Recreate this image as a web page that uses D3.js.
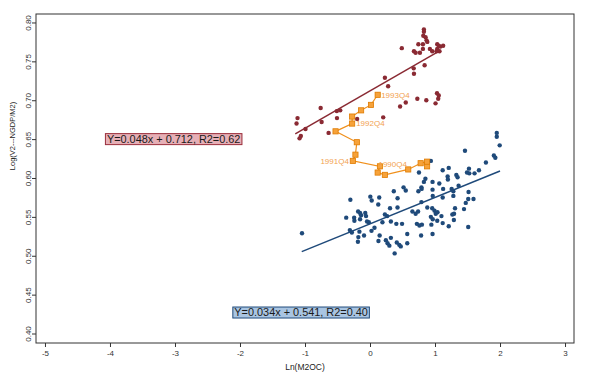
<!DOCTYPE html>
<html>
<head>
<meta charset="utf-8">
<script src="https://cdn.jsdelivr.net/npm/d3@7"></script>
<style>
  html, body { margin: 0; padding: 0; background: #ffffff; }
  svg { display: block; }
  text { font-family: "Liberation Sans", Arial, Helvetica, sans-serif; }
</style>
</head>
<body>
<svg id="chart" width="600" height="376"></svg>
<script>
// ---------------- DATA ----------------
const xTickValues = [-5, -4, -3, -2, -1, 0, 1, 2, 3];
const xTickLabels = ["-5", "-4", "-3", "-2", "-1", "0", "1", "2", "3"];
const yTickValues = [0.40, 0.45, 0.50, 0.55, 0.60, 0.65, 0.70, 0.75, 0.80];
const yTickLabels = ["0.40", "0.45", "0.50", "0.55", "0.60", "0.65", "0.70", "0.75", "0.80"];
const xTitle = "Ln(M2OC)";
const yTitle = "Log(V2---NGDP/M2)";

// dark red series
const redX = [-0.759, -1.115, -1.130, -0.992, -0.744, -0.511, -0.458, -0.508, -0.637, -0.198,
  -1.064, -1.084, 0.203, 0.229, 0.279, 0.463, 0.550, 0.728, 0.866, 1.031,
  1.058, 1.049, 1.008, 0.672, 0.676, 0.840, 0.489, 0.829, 0.829, 0.820,
  0.855, 0.870, 0.881, 0.744, 0.814, 0.814, 0.676, 0.702, 0.768, 0.921,
  0.957, 1.034, 1.058, 1.084, 1.125, 1.034, 1.069, 1.023, 0.118];
const redY = [0.690, 0.677, 0.670, 0.663, 0.672, 0.686, 0.687, 0.677, 0.658, 0.676,
  0.654, 0.651, 0.678, 0.729, 0.718, 0.692, 0.697, 0.702, 0.700, 0.709,
  0.706, 0.702, 0.696, 0.741, 0.734, 0.745, 0.767, 0.791, 0.788, 0.783,
  0.781, 0.777, 0.775, 0.772, 0.772, 0.766, 0.763, 0.761, 0.761, 0.766,
  0.763, 0.772, 0.770, 0.769, 0.770, 0.766, 0.763, 0.763, 0.707];

// dark blue series
const blueX = [-1.046, -0.302, 0.005, 0.026, 0.142, 0.127, 0.366, 0.424, -0.366, -0.244,
  -0.240, -0.183, -0.153, -0.137, -0.073, -0.061, -0.153, -0.046, -0.018, -0.310,
  -0.279, -0.163, -0.179, -0.186, -0.092, 0.023, 0.069, 0.148, 0.229, 0.264,
  0.308, 0.423, 0.191, 0.321, 0.405, 0.130, 0.244, 0.270, 0.298, 0.321,
  0.412, 0.450, 0.473, 0.379, 0.573, 0.573, 1.950, 1.950, 1.995, 1.461,
  1.905, 1.928, 1.783, 0.936, 0.753, 1.118, 1.211, 1.522, 1.492, 1.527,
  1.608, 1.676, 1.328, 1.347, 1.194, 1.198, 0.852, 0.829, 0.962, 1.066,
  0.791, 0.794, 0.744, 0.516, 0.550, 0.962, 1.125, 1.256, 1.282, 1.363,
  0.965, 1.118, 1.282, 1.516, 1.511, 1.592, 1.473, 0.791, 0.881, 0.957,
  0.992, 1.011, 1.038, 1.099, 0.652, 0.702, 0.740, 1.308, 1.293, 1.267,
  1.446, 0.936, 0.965, 1.034, 1.290, 0.493, 0.721, 0.760, 0.798, 0.944,
  1.118, 1.211, 1.511, 0.786, 0.962];
const blueY = [0.529, 0.572, 0.576, 0.571, 0.575, 0.566, 0.583, 0.574, 0.549, 0.549,
  0.545, 0.557, 0.555, 0.552, 0.555, 0.551, 0.547, 0.544, 0.543, 0.533,
  0.530, 0.531, 0.524, 0.518, 0.526, 0.532, 0.536, 0.526, 0.553, 0.551,
  0.561, 0.562, 0.543, 0.544, 0.541, 0.519, 0.520, 0.516, 0.513, 0.523,
  0.517, 0.514, 0.512, 0.503, 0.528, 0.516, 0.658, 0.653, 0.642, 0.635,
  0.629, 0.626, 0.620, 0.622, 0.607, 0.610, 0.613, 0.612, 0.607, 0.606,
  0.606, 0.610, 0.604, 0.601, 0.602, 0.598, 0.599, 0.595, 0.595, 0.593,
  0.588, 0.586, 0.583, 0.588, 0.584, 0.585, 0.586, 0.586, 0.583, 0.590,
  0.577, 0.575, 0.577, 0.582, 0.573, 0.573, 0.568, 0.569, 0.562, 0.561,
  0.558, 0.554, 0.556, 0.551, 0.557, 0.554, 0.557, 0.561, 0.554, 0.553,
  0.560, 0.550, 0.547, 0.545, 0.546, 0.541, 0.541, 0.539, 0.540, 0.540,
  0.542, 0.538, 0.537, 0.526, 0.528];

// orange connected path
const orangeX = [0.878, 0.878, 0.779, 0.588, 0.229, 0.118, 0.153, -0.264, -0.224, -0.203,
  -0.530, -0.275, -0.275, -0.137, 0.015, 0.118];
const orangeY = [0.615, 0.621, 0.619, 0.611, 0.604, 0.607, 0.615, 0.622, 0.630, 0.646,
  0.660, 0.670, 0.679, 0.687, 0.694, 0.707];
const orangeLabelIndex = [6, 7, 11, 15];
const orangeLabelText = ["1990Q4", "1991Q4", "1992Q4", "1993Q4"];

// fitted lines (from the chart's equations)
const fitSlopes = [0.048, 0.034];
const fitIntercepts = [0.712, 0.541];
const fitXFrom = [-1.15, -1.05];
const fitXTo = [1.05, 2.00];
const fitLabels = ["Y=0.048x + 0.712, R2=0.62", "Y=0.034x + 0.541, R2=0.40"];
const fitLabelX = [-3.02, -1.06];
const fitLabelY = [0.650, 0.427];

// ---------------- STYLE ----------------
const RED = "#8a2a33", BLUE = "#1f4a7a", ORANGE = "#f0901c", ORANGE_TXT = "#f2a250";
const boxFill = ["#e6afb6", "#a9c5e2"];
const boxStroke = ["#9a2e3b", "#1f4a7a"];
const lineColor = [RED, BLUE];

const svg = d3.select("#chart");
const frame = { left: 36, right: 574, top: 14, bottom: 343 };

const x = d3.scaleLinear().domain([-5.138, 3.138]).range([frame.left, frame.right]);
const y = d3.scaleLinear().domain([0.3878, 0.8109]).range([frame.bottom, frame.top]);

// background
svg.append("rect").attr("width", 600).attr("height", 376).attr("fill", "#fff");

// axes
const xAxis = d3.axisBottom(x).tickValues(xTickValues)
  .tickFormat((d, i) => xTickLabels[i]).tickSizeOuter(0).tickSize(4).tickPadding(3);
const gx = svg.append("g").attr("transform", `translate(0,${frame.bottom})`).call(xAxis);
gx.select(".domain").remove();
gx.selectAll(".tick line").attr("stroke", "#333").attr("stroke-width", 1);
gx.selectAll(".tick text").attr("fill", "#333").style("font-size", "8px")
  .attr("dy", "0.71em");

const yAxis = d3.axisLeft(y).tickValues(yTickValues)
  .tickFormat((d, i) => yTickLabels[i]).tickSizeOuter(0).tickSize(4);
const gy = svg.append("g").attr("transform", `translate(${frame.left},0)`).call(yAxis);
gy.select(".domain").remove();
gy.selectAll(".tick line").attr("stroke", "#333").attr("stroke-width", 1);
gy.selectAll(".tick text").attr("fill", "#333").style("font-size", "8px")
  .attr("transform", "rotate(-90)")
  .attr("x", 0).attr("y", -5).attr("dy", "0")
  .style("text-anchor", "middle");

// frame
svg.append("rect")
  .attr("x", frame.left).attr("y", frame.top)
  .attr("width", frame.right - frame.left).attr("height", frame.bottom - frame.top)
  .attr("fill", "none").attr("stroke", "#333").attr("stroke-width", 1);

// axis titles
svg.append("text").attr("x", (frame.left + frame.right) / 2).attr("y", 370)
  .attr("text-anchor", "middle").style("font-size", "8.5px").attr("fill", "#222")
  .text(xTitle);
svg.append("text").attr("transform", `translate(15,136) rotate(-90)`)
  .attr("text-anchor", "middle").style("font-size", "7.5px").attr("fill", "#222")
  .text(yTitle);

const plot = svg.append("g");

// points
plot.selectAll("circle.red").data(redX.map((v, i) => [v, redY[i]])).enter()
  .append("circle").attr("class", "red")
  .attr("cx", d => x(d[0])).attr("cy", d => y(d[1])).attr("r", 2.2)
  .attr("fill", RED);
plot.selectAll("circle.blue").data(blueX.map((v, i) => [v, blueY[i]])).enter()
  .append("circle").attr("class", "blue")
  .attr("cx", d => x(d[0])).attr("cy", d => y(d[1])).attr("r", 2.2)
  .attr("fill", BLUE);

// fit lines
const line = d3.line().x(d => x(d[0])).y(d => y(d[1]));
fitSlopes.forEach((s, i) => {
  const pts = [fitXFrom[i], fitXTo[i]].map(v => [v, s * v + fitIntercepts[i]]);
  plot.append("path").attr("d", line(pts)).attr("fill", "none")
    .attr("stroke", lineColor[i]).attr("stroke-width", 1.5);
});

// orange path
const oPts = orangeX.map((v, i) => [v, orangeY[i]]);
plot.append("path").attr("d", line(oPts)).attr("fill", "none")
  .attr("stroke", ORANGE).attr("stroke-width", 1.2);
plot.selectAll("rect.om").data(oPts).enter().append("rect").attr("class", "om")
  .attr("x", d => x(d[0]) - 2.6).attr("y", d => y(d[1]) - 2.6)
  .attr("width", 5.2).attr("height", 5.2)
  .attr("fill", "#f6a23a").attr("stroke", "#e07c00").attr("stroke-width", 0.8);

// orange labels (placement: style)
const labelPlacement = [
  { dx: -1.5, dy: -2.5, anchor: "start" },
  { dx: -4, dy: 0, anchor: "end" },
  { dx: 4, dy: 0, anchor: "start" },
  { dx: 3.5, dy: 0, anchor: "start" }
];
orangeLabelIndex.forEach((idx, k) => {
  const p = labelPlacement[k];
  plot.append("text")
    .attr("x", x(orangeX[idx]) + p.dx).attr("y", y(orangeY[idx]) + p.dy)
    .attr("dy", "0.35em").attr("text-anchor", p.anchor)
    .style("font-size", "8px").attr("fill", ORANGE_TXT)
    .text(orangeLabelText[k]);
});

// fit equation boxes
fitLabels.forEach((t, i) => {
  const g = svg.append("g");
  const txt = g.append("text")
    .attr("x", x(fitLabelX[i])).attr("y", y(fitLabelY[i]))
    .attr("dy", "0.36em").attr("text-anchor", "middle")
    .style("font-size", "10.9px").attr("fill", "#1a1a1a").text(t);
  const bb = txt.node().getBBox();
  g.insert("rect", "text")
    .attr("x", bb.x - 1.5).attr("y", y(fitLabelY[i]) - 5.5)
    .attr("width", bb.width + 3).attr("height", 11)
    .attr("fill", boxFill[i]).attr("stroke", boxStroke[i]).attr("stroke-width", 1);
});
</script>
</body>
</html>
